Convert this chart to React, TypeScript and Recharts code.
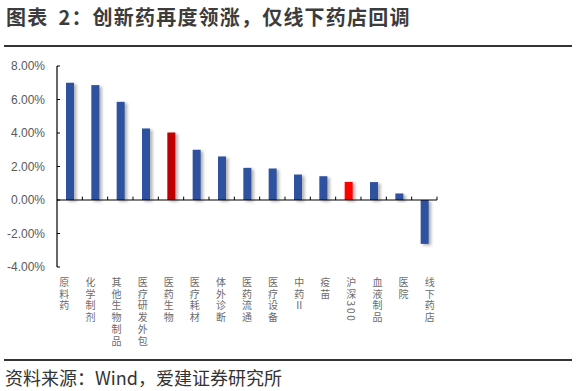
import React from 'react';
import { BarChart, Bar, XAxis, YAxis, Cell, ReferenceLine } from 'recharts';

const categories: string[] = [
  '原料药', '化学制剂', '其他生物制品', '医疗研发外包', '医药生物', '医疗耗材', '体外诊断',
  '医药流通', '医疗设备', '中药Ⅱ', '疫苗', '沪深300', '血液制品', '医院', '线下药店',
];
const values: number[] = [7.0, 6.86, 5.86, 4.27, 4.03, 3.0, 2.6, 1.92, 1.88, 1.52, 1.42, 1.08, 1.07, 0.39, -2.62];
const barColors: string[] = [
  '#2F52A0', '#2F52A0', '#2F52A0', '#2F52A0', '#C00000', '#2F52A0', '#2F52A0',
  '#2F52A0', '#2F52A0', '#2F52A0', '#2F52A0', '#FF0000', '#2F52A0', '#2F52A0', '#2F52A0',
];
const yTicks: number[] = [-4, -2, 0, 2, 4, 6, 8];
const titleHead = '图表';
const titleRest = '2：创新药再度领涨，仅线下药店回调';
const source = '资料来源：Wind，爱建证券研究所';

const data = categories.map((name, i) => ({ name, value: values[i] }));

const CJK = '"Noto Sans CJK SC", "Noto Sans", sans-serif';

const ShadowBar = (props: any) => {
  const { x, y, width, height, fill } = props;
  const top = Math.min(y, y + height);
  const h = Math.abs(height);
  return (
    <g>
      <defs>
        <filter id="barShadow" x="-100%" y="-20%" width="300%" height="140%">
          <feGaussianBlur stdDeviation="1.4" />
        </filter>
      </defs>
      <rect x={x + 2.5} y={top + 1.5} width={width} height={h} fill="#9a9a9a" opacity={0.75} filter="url(#barShadow)" />
      <rect x={x} y={top} width={width} height={h} fill={fill} />
    </g>
  );
};

const PLOT_MID = 247;

const VerticalTick = (props: any) => {
  const { x, y, payload } = props;
  const label: string = payload.value;
  const cx = x + (x - PLOT_MID) * 0.03;
  return (
    <text x={cx} y={y + 2} textAnchor="start" fontSize={10} fill="#6b6b6b" fontFamily={CJK}
      style={{ writingMode: 'vertical-rl', textOrientation: 'mixed', letterSpacing: 1.8 } as any}>
      {label}
    </text>
  );
};

export default function App() {
  return (
    <div style={{ position: 'fixed', left: 0, top: 0, width: 576, height: 391, background: '#fff', overflow: 'hidden' }}>
      <div style={{ position: 'absolute', left: 6, top: 3, fontSize: 20, fontWeight: 700, color: '#3c3c3c', fontFamily: CJK, lineHeight: '28px', whiteSpace: 'nowrap', letterSpacing: 1.2 }}>
        <span>{titleHead}</span>
        <span style={{ display: 'inline-block', width: 10 }} />
        <span>{titleRest}</span>
      </div>
      <div style={{ position: 'absolute', left: 4, top: 45, width: 568, height: 1.5, background: '#333' }} />
      <div style={{ position: 'absolute', left: 0, top: 0 }}>
        <BarChart width={576} height={391} data={data} margin={{ top: 66, right: 139, left: 0, bottom: 0 }}
          barCategoryGap={0}>
          <XAxis dataKey="name" interval={0} height={124} axisLine={false} tickLine={false} tick={<VerticalTick />} />
          <YAxis domain={[-4, 8]} ticks={yTicks} width={57} interval={0}
            tickFormatter={(v: number) => `${v.toFixed(2)}%`}
            axisLine={{ stroke: '#000', strokeWidth: 1.2 }}
            tickLine={{ stroke: '#000', strokeWidth: 1 }}
            tickSize={-3} tickMargin={15}
            tick={{ fontSize: 12, fill: '#595959', fontFamily: '"Liberation Sans", Arial, sans-serif' }} />
          <ReferenceLine y={0} stroke="#000" strokeWidth={1.2} />
          {categories.slice(1).map((c) => (
            <ReferenceLine key={`t-${c}`} segment={[{ x: c, y: 0 }, { x: c, y: 0.2 }]} position="start" stroke="#000" strokeWidth={1} />
          ))}
          <ReferenceLine segment={[{ x: categories[categories.length - 1], y: 0 }, { x: categories[categories.length - 1], y: 0.2 }]} position="end" stroke="#000" strokeWidth={1} />
          <Bar dataKey="value" barSize={8} isAnimationActive={false} shape={<ShadowBar />}>
            {data.map((d, i) => (
              <Cell key={d.name} fill={barColors[i]} />
            ))}
          </Bar>
        </BarChart>
      </div>
      <div style={{ position: 'absolute', left: 4, top: 359, width: 568, height: 1.5, background: '#333' }} />
      <div style={{ position: 'absolute', left: 5, top: 365, fontSize: 18, color: '#333', fontFamily: CJK, lineHeight: '25px', whiteSpace: 'nowrap' }}>
        {source}
      </div>
    </div>
  );
}
